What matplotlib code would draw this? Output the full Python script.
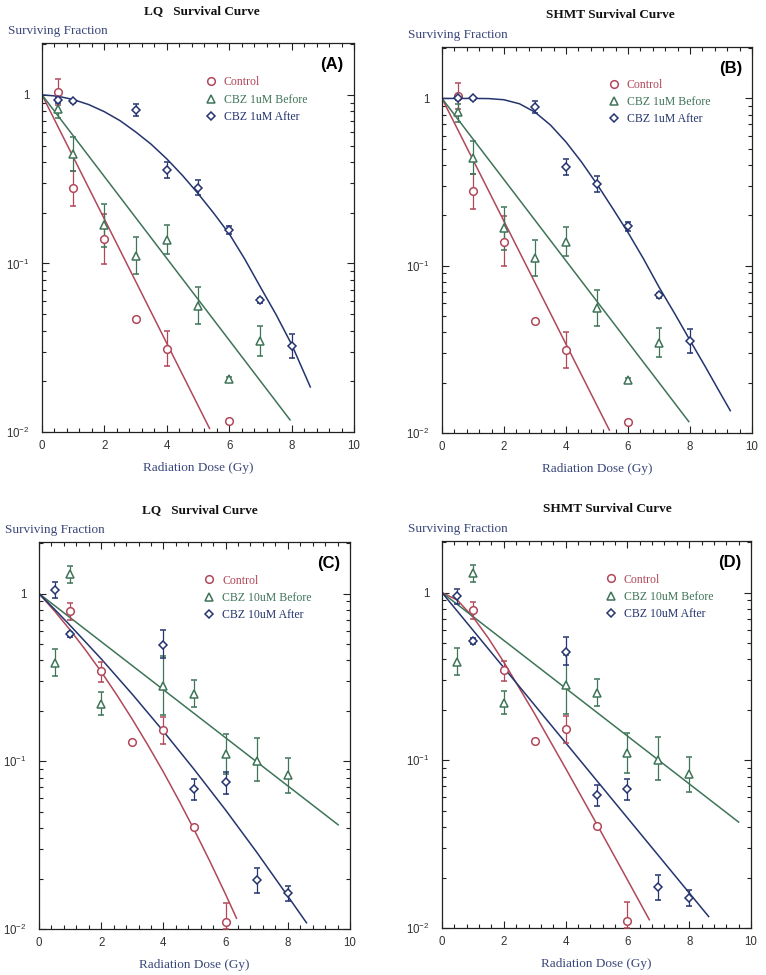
import matplotlib
matplotlib.use("Agg")
import matplotlib.pyplot as plt
from matplotlib.ticker import FixedLocator, FixedFormatter, LogLocator, NullFormatter, MultipleLocator
from matplotlib.lines import Line2D

plt.rcParams['mathtext.fontset'] = 'custom'
plt.rcParams['mathtext.rm'] = 'Liberation Sans'
plt.rcParams['mathtext.it'] = 'Liberation Sans:italic'
plt.rcParams['mathtext.bf'] = 'Liberation Sans:bold'

RED = '#b0485a'
GREEN = '#3e7458'
BLUE = '#24346e'
LABEL_BLUE = '#3a4779'

# ---------------- data: 1 uM experiment (panels A, B) ----------------
dose_ctrl_1 = [0.5, 1, 2, 3, 4, 6]
sf_ctrl_1 = [1.04, 0.281, 0.139, 0.0466, 0.0312, 0.0116]
err_lo_ctrl_1 = [0.17, 0.063, 0.040, 0.0014, 0.0067, 0.0003]
err_hi_ctrl_1 = [0.20, 0.074, 0.058, 0.0014, 0.0088, 0.0003]

dose_before_1 = [0.5, 1, 2, 3, 4, 5, 6, 7]
sf_before_1 = [0.826, 0.443, 0.168, 0.111, 0.138, 0.0556, 0.0207, 0.0346]
err_lo_before_1 = [0.10, 0.088, 0.043, 0.024, 0.024, 0.0121, 0.0005, 0.0062]
err_hi_before_1 = [0.10, 0.117, 0.056, 0.032, 0.032, 0.0164, 0.0005, 0.0078]

dose_after_1 = [0.5, 1, 3, 4, 5, 6, 7, 8]
sf_after_A = [0.934, 0.917, 0.815, 0.359, 0.281, 0.158, 0.0604, 0.0325]
err_lo_after_A = [0.04, 0.02, 0.061, 0.038, 0.028, 0.008, 0.002, 0.0049]
err_hi_after_A = [0.04, 0.02, 0.069, 0.039, 0.030, 0.008, 0.002, 0.0055]
sf_after_B = [1.01, 1.0, 0.89, 0.39, 0.307, 0.172, 0.0664, 0.0357]
err_lo_after_B = [0.03, 0.02, 0.075, 0.043, 0.030, 0.011, 0.002, 0.0055]
err_hi_after_B = [0.03, 0.02, 0.070, 0.046, 0.036, 0.011, 0.002, 0.0059]

# fitted curves
fitA_ctrl_dose = [0, 5.37]
fitA_ctrl_sf = [1.0, 0.0105]
fitA_before_dose = [0, 7.95]
fitA_before_sf = [1.0, 0.0118]
fitA_after_dose = [0, 0.5, 1, 1.5, 2, 2.5, 3, 3.5, 4, 4.5, 5, 5.5, 6, 6.5, 7, 7.5, 8, 8.6]
fitA_after_sf = [1.0, 0.982, 0.938, 0.875, 0.794, 0.703, 0.603, 0.509, 0.417, 0.333,
                 0.260, 0.199, 0.150, 0.106, 0.0724, 0.0498, 0.0331, 0.0185]

fitB_ctrl_dose = [0, 5.40]
fitB_ctrl_sf = [1.0, 0.0104]
fitB_before_dose = [0, 7.96]
fitB_before_sf = [1.0, 0.0117]
fitB_after_dose = [0, 0.5, 1, 1.5, 2, 2.5, 3, 3.5, 4, 4.5, 5, 5.5, 6, 6.5, 7, 7.5, 8, 8.5, 9, 9.3]
fitB_after_sf = [1.0, 1.0, 1.0, 0.998, 0.982, 0.929, 0.828, 0.693, 0.549, 0.417, 0.307,
                 0.221, 0.158, 0.110, 0.0745, 0.0520, 0.0358, 0.0248, 0.0170, 0.0136]

# ---------------- data: 10 uM experiment (panels C, D) ----------------
dose_ctrl_10 = [1, 2, 3, 4, 5, 6]
sf_ctrl_10 = [0.785, 0.345, 0.131, 0.153, 0.0408, 0.0110]
err_lo_ctrl_10 = [0.09, 0.050, 0.003, 0.026, 0.001, 0.001]
err_hi_ctrl_10 = [0.09, 0.045, 0.003, 0.031, 0.001, 0.0033]

dose_before_10 = [0.5, 1, 2, 4, 5, 6, 7, 8]
sf_before_10 = [0.386, 1.30, 0.219, 0.281, 0.251, 0.111, 0.100, 0.0825]
err_lo_before_10 = [0.063, 0.15, 0.031, 0.091, 0.041, 0.027, 0.024, 0.0175]
err_hi_before_10 = [0.084, 0.17, 0.040, 0.146, 0.054, 0.034, 0.038, 0.0215]

dose_after_10 = [0.5, 1, 4, 5, 6, 7, 8]
sf_after_C = [1.056, 0.573, 0.495, 0.0682, 0.0749, 0.0195, 0.0163]
err_lo_after_C = [0.109, 0.02, 0.08, 0.0093, 0.0107, 0.0032, 0.0016]
err_hi_after_C = [0.114, 0.02, 0.11, 0.0100, 0.0110, 0.0037, 0.0018]
sf_after_D = [0.95, 0.515, 0.443, 0.0622, 0.0672, 0.0175, 0.0151]
err_lo_after_D = [0.10, 0.02, 0.075, 0.0085, 0.0095, 0.0029, 0.0015]
err_hi_after_D = [0.10, 0.02, 0.100, 0.0090, 0.0100, 0.0033, 0.0017]

fitC_ctrl_dose = [0, 0.5, 1, 1.5, 2, 2.5, 3, 3.5, 4, 4.5, 5, 5.5, 6, 6.35]
fitC_ctrl_sf = [1.0, 0.787, 0.607, 0.460, 0.342, 0.249, 0.178, 0.125, 0.0863, 0.0583,
                0.0387, 0.0252, 0.0161, 0.0116]
fitC_before_dose = [0, 9.62]
fitC_before_sf = [1.0, 0.0418]
fitC_after_dose = [0, 0.5, 1, 2, 3, 4, 5, 6, 7, 8, 8.6]
fitC_after_sf = [1.0, 0.806, 0.646, 0.408, 0.251, 0.151, 0.0889, 0.0512, 0.0287, 0.0157, 0.0109]

fitD_ctrl_dose = [0, 0.5, 1, 1.5, 2, 3, 4, 5, 6, 6.71]
fitD_ctrl_sf = [1.0, 0.901, 0.716, 0.535, 0.385, 0.189, 0.0896, 0.0419, 0.0194, 0.0112]
fitD_before_dose = [0, 9.6]
fitD_before_sf = [1.0, 0.0428]
fitD_after_dose = [0, 8.63]
fitD_after_sf = [1.0, 0.0117]

x_ticks = [0, 2, 4, 6, 8, 10]
x_tick_labels = ['0', '2', '4', '6', '8', '10']
y_ticks = [0.01, 0.1, 1]
y_tick_labels = ['$10^{-2}$', '$10^{-1}$', '1']

labels_1 = ['Control', 'CBZ 1uM Before', 'CBZ 1uM After']
labels_10 = ['Control', 'CBZ 10uM Before', 'CBZ 10uM After']

SERIF = 'Liberation Serif'
SANS = 'Liberation Sans'

MARKERS = [('o', 5.5), ('^', 5.5), ('D', 4.3)]
COLORS = [RED, GREEN, BLUE]

panels = [
    dict(rect=[42/766, 1-432/975, 312/766, 389/975], title='LQ   Survival Curve', letter='(A)',
         labels=labels_1,
         series=[(dose_ctrl_1, sf_ctrl_1, err_lo_ctrl_1, err_hi_ctrl_1),
                 (dose_before_1, sf_before_1, err_lo_before_1, err_hi_before_1),
                 (dose_after_1, sf_after_A, err_lo_after_A, err_hi_after_A)],
         fits=[(fitA_ctrl_dose, fitA_ctrl_sf), (fitA_before_dose, fitA_before_sf),
               (fitA_after_dose, fitA_after_sf)],
         title_x=0.513, leg=(0.522, 0.914)),
    dict(rect=[442/766, 1-433/975, 310/766, 386/975], title='SHMT Survival Curve', letter='(B)',
         labels=labels_1,
         series=[(dose_ctrl_1, sf_ctrl_1, err_lo_ctrl_1, err_hi_ctrl_1),
                 (dose_before_1, sf_before_1, err_lo_before_1, err_hi_before_1),
                 (dose_after_1, sf_after_B, err_lo_after_B, err_hi_after_B)],
         fits=[(fitB_ctrl_dose, fitB_ctrl_sf), (fitB_before_dose, fitB_before_sf),
               (fitB_after_dose, fitB_after_sf)],
         title_x=0.542, leg=(0.535, 0.918)),
    dict(rect=[39/766, 1-929/975, 311/766, 387/975], title='LQ   Survival Curve', letter='(C)',
         labels=labels_10,
         series=[(dose_ctrl_10, sf_ctrl_10, err_lo_ctrl_10, err_hi_ctrl_10),
                 (dose_before_10, sf_before_10, err_lo_before_10, err_hi_before_10),
                 (dose_after_10, sf_after_C, err_lo_after_C, err_hi_after_C)],
         fits=[(fitC_ctrl_dose, fitC_ctrl_sf), (fitC_before_dose, fitC_before_sf),
               (fitC_after_dose, fitC_after_sf)],
         title_x=0.518, leg=(0.529, 0.916)),
    dict(rect=[442/766, 1-928/975, 309/766, 387/975], title='SHMT Survival Curve', letter='(D)',
         labels=labels_10,
         series=[(dose_ctrl_10, sf_ctrl_10, err_lo_ctrl_10, err_hi_ctrl_10),
                 (dose_before_10, sf_before_10, err_lo_before_10, err_hi_before_10),
                 (dose_after_10, sf_after_D, err_lo_after_D, err_hi_after_D)],
         fits=[(fitD_ctrl_dose, fitD_ctrl_sf), (fitD_before_dose, fitD_before_sf),
               (fitD_after_dose, fitD_after_sf)],
         title_x=0.534, leg=(0.527, 0.916)),
]

fig = plt.figure(figsize=(7.66, 9.75), dpi=100)

for p in panels:
    ax = fig.add_axes(p['rect'])
    for (d, s), c in zip(p['fits'], COLORS):
        ax.plot(d, s, color=c, lw=1.1, zorder=2)
    for (d, s, lo, hi), (m, ms), c in zip(p['series'], MARKERS, COLORS):
        ax.errorbar(d, s, yerr=[lo, hi], fmt=m, ms=ms, mfc='white', mec=c, mew=1.1,
                    ecolor=c, elinewidth=0.9, capsize=2.3, capthick=0.9, zorder=3)
    ax.set_yscale('log')
    ax.set_xlim(0, 10)
    ax.set_ylim(0.01, 2.03)
    ax.xaxis.set_major_locator(FixedLocator(x_ticks))
    ax.xaxis.set_major_formatter(FixedFormatter(x_tick_labels))
    ax.xaxis.set_minor_locator(MultipleLocator(0.4))
    ax.yaxis.set_major_locator(FixedLocator(y_ticks))
    ax.yaxis.set_major_formatter(FixedFormatter(y_tick_labels))
    ax.yaxis.set_minor_locator(LogLocator(base=10, subs=range(2, 10)))
    ax.yaxis.set_minor_formatter(NullFormatter())
    ax.tick_params(which='both', direction='in', top=True, right=True, width=0.8,
                   colors='#222222', labelcolor='#333333')
    ax.tick_params(which='major', length=5, labelsize=8.3)
    ax.tick_params(which='minor', length=3)
    ax.tick_params(axis='y', which='major', pad=9)
    ax.tick_params(axis='x', which='major', pad=6)
    for lab in ax.get_xticklabels() + ax.get_yticklabels():
        lab.set_fontfamily(SANS)
    for sp in ax.spines.values():
        sp.set_linewidth(0.9)
        sp.set_color('#222222')
    ax.set_xlabel('Radiation Dose (Gy)', fontfamily=SERIF, fontsize=9.5, color=LABEL_BLUE, labelpad=7)
    ax.text(p['title_x'], 1.083, p['title'], transform=ax.transAxes, ha='center', va='center',
            fontfamily=SERIF, fontsize=9.5, fontweight='bold', color='#111111')
    ax.text(-0.11, 1.031, 'Surviving Fraction', transform=ax.transAxes, ha='left', va='center',
            fontfamily=SERIF, fontsize=9.5, color=LABEL_BLUE)
    ax.text(0.93, 0.945, p['letter'], transform=ax.transAxes, ha='center', va='center',
            fontfamily=SANS, fontsize=12, fontweight='bold', color='black')
    handles = [Line2D([], [], ls='none', marker=m, ms=ms, mfc='white', mec=c, mew=1.1)
               for (m, ms), c in zip(MARKERS, COLORS)]
    ax.legend(handles, p['labels'], loc='upper left', bbox_to_anchor=p['leg'], frameon=False,
              prop={'family': SERIF, 'size': 8.5}, handlelength=1.0, handletextpad=0.6,
              labelspacing=0.45, borderpad=0, borderaxespad=0, labelcolor=COLORS)

fig.savefig('out.png', dpi=100)
